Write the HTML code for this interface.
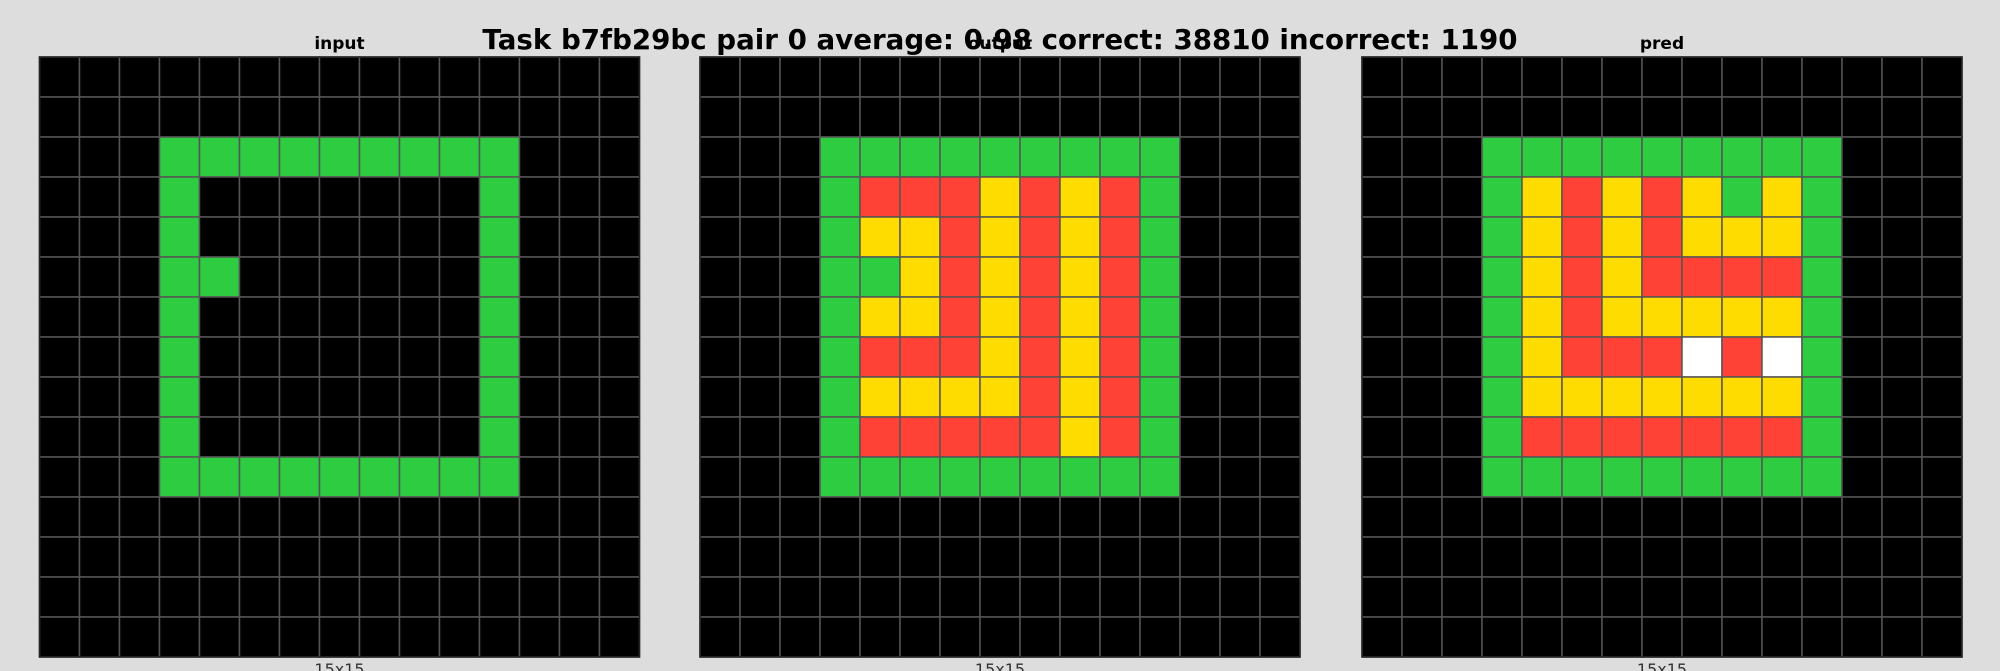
<!DOCTYPE html>
<html><head><meta charset="utf-8">
<style>
html,body{margin:0;padding:0;background:#dddddd;width:2000px;height:671px;overflow:hidden;font-family:"DejaVu Sans","Liberation Sans",sans-serif;}
</style></head>
<body>
<svg id="chart" width="2000" height="671" viewBox="0 0 2000 671" xmlns="http://www.w3.org/2000/svg" font-family="DejaVu Sans, Liberation Sans, sans-serif">
<rect x="0" y="0" width="2000" height="671" fill="#dddddd"/>
</svg>
<script>
const palette = {0:'#000000',2:'#FF4136',3:'#2ECC40',4:'#FFDC00',5:'#ffffff'};
const panelTitles = ['input','output','pred'];
const panelX = [39.5, 700, 1362];
const inputRows = [
"000000000000000","000000000000000","000333333333000","000300000003000","000300000003000",
"000330000003000","000300000003000","000300000003000","000300000003000","000300000003000",
"000333333333000","000000000000000","000000000000000","000000000000000","000000000000000"];
const outputRows = [
"000000000000000","000000000000000","000333333333000","000322242423000","000344242423000",
"000334242423000","000344242423000","000322242423000","000344442423000","000322222423000",
"000333333333000","000000000000000","000000000000000","000000000000000","000000000000000"];
const predRows = [
"000000000000000","000000000000000","000333333333000","000342424343000","000342424443000",
"000342422223000","000342444443000","000342225253000","000344444443000","000322222223000",
"000333333333000","000000000000000","000000000000000","000000000000000","000000000000000"];
const grids = [inputRows, outputRows, predRows];
const NS = 'http://www.w3.org/2000/svg';
const svg = document.getElementById('chart');
const top0 = 57, size = 600, n = 15, cell = size / n;
function mk(tag, attrs){const e=document.createElementNS(NS,tag);for(const k in attrs)e.setAttribute(k,attrs[k]);return e;}
grids.forEach((g, p) => {
  const gx = panelX[p];
  const grp = mk('g', {});
  
  
  svg.appendChild(grp);
  for (let r = 0; r < n; r++) for (let c = 0; c < n; c++) {
    const v = +g[r][c];
    const rc = mk('rect', {x: gx + c*cell, y: top0 + r*cell, width: cell, height: cell, fill: palette[v], stroke: '#555555', 'stroke-width': 1.5});
    
    
    grp.appendChild(rc);
  }
  const border = mk('rect', {x: gx, y: top0, width: size, height: size, fill: 'none', stroke: '#222', 'stroke-width': 1.5});
  
  
  svg.appendChild(border);
  const t = mk('text', {x: gx + size/2, y: 49, 'text-anchor': 'middle', 'font-size': 17, 'font-weight': 'bold', fill: '#000'});
  t.textContent = panelTitles[p];
  
  
  svg.appendChild(t);
  const lb = mk('text', {x: gx + size/2, y: 675, 'text-anchor': 'middle', 'font-size': 16, fill: '#333'});
  lb.textContent = '15x15';
  
  
  svg.appendChild(lb);
});
const title = mk('text',{x:1000,y:49,'text-anchor':'middle','font-size':27.7,'font-weight':'bold',fill:'#000'});
title.textContent = 'Task b7fb29bc pair 0 average: 0.98 correct: 38810 incorrect: 1190';


svg.appendChild(title);
</script>
</body></html>
